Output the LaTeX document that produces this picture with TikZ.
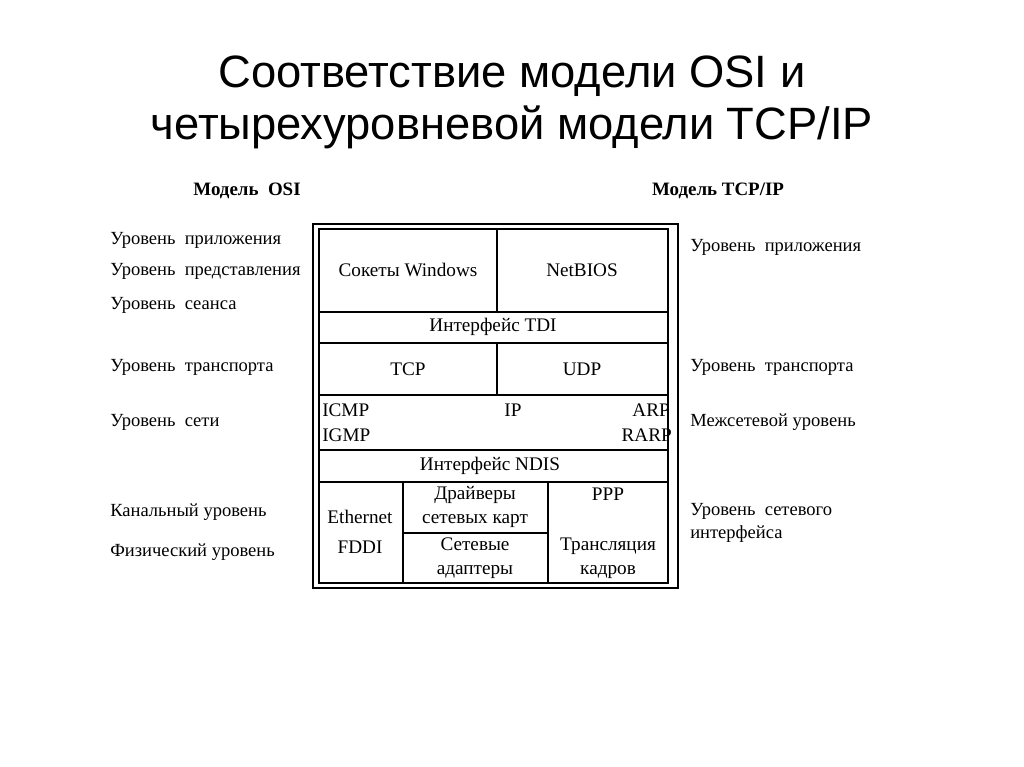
\documentclass[tikz,border=0pt]{standalone}
\usepackage{fontspec}
\setmainfont{Liberation Serif}
\newfontfamily\titlefont{Liberation Sans}
\begin{document}
\begin{tikzpicture}[x=0.75pt,y=-0.75pt,
  lbl/.style={anchor=west,font=\fontsize{13.9}{17}\selectfont,inner sep=0},
  cell/.style={font=\fontsize{14.4}{18}\selectfont,align=center,inner sep=0},
  hdr/.style={font=\bfseries\fontsize{14.2}{16}\selectfont,inner sep=0}]
\useasboundingbox (0,0) rectangle (1024,767);
\node[font=\titlefont\fontsize{34}{39}\selectfont,align=center] (title) at (512,102) {Соответствие модели OSI и\\четырехуровневой модели TCP/IP};
\node[hdr] (h1) at (247,191) {Модель\ \ OSI};
\node[hdr] (h2) at (718,191) {Модель TCP/IP};
\draw[line width=1.8pt] (313,224) rectangle (678,588);
\draw[line width=1pt] (319,229) rectangle (668,583);
\foreach \y in {312,343,395,450,482} \draw[line width=1pt] (319,\y) -- (668,\y);
\draw[line width=1pt] (497,229) -- (497,312) (497,343) -- (497,395);
\draw[line width=1pt] (403,482) -- (403,583) (548,482) -- (548,583) (403,533) -- (548,533);
\node[cell] (c1) at (408,270) {Сокеты Windows};
\node[cell] (c2) at (582,270) {NetBIOS};
\node[cell] (c3) at (493,327) {Интерфейс TDI};
\node[cell] (c4) at (408,369) {TCP};
\node[cell] (c5) at (582,369) {UDP};
\node[cell,anchor=west] (c6) at (322,410) {ICMP};
\node[cell,anchor=west] (c7) at (322,435) {IGMP};
\node[cell] (c8) at (513,410) {IP};
\node[cell,anchor=east] (c9) at (670,410) {ARP};
\node[cell,anchor=east] (c10) at (672,435) {RARP};
\node[cell] (c11) at (490,466) {Интерфейс NDIS};
\node[cell] (c12) at (360,532) {Ethernet\\[4pt]FDDI};
\node[cell] (c13) at (475,507) {Драйверы\\сетевых карт};
\node[cell] (c14) at (475,558) {Сетевые\\адаптеры};
\node[cell] (c15) at (608,494) {PPP};
\node[cell] (c16) at (608,558) {Трансляция\\кадров};
\node[lbl] (l1) at (110,240) {Уровень\ \ приложения};
\node[lbl] (l2) at (110,271) {Уровень\ \ представления};
\node[lbl] (l3) at (110,305) {Уровень\ \ сеанса};
\node[lbl] (l4) at (110,367) {Уровень\ \ транспорта};
\node[lbl] (l5) at (110,422) {Уровень\ \ сети};
\node[lbl] (l6) at (110,512) {Канальный уровень};
\node[lbl] (l7) at (110,552) {Физический уровень};
\node[lbl] (r1) at (690,247) {Уровень\ \ приложения};
\node[lbl] (r2) at (690,367) {Уровень\ \ транспорта};
\node[lbl] (r3) at (690,422) {Межсетевой уровень};
\node[lbl,align=left] (r4) at (690,523) {Уровень\ \ сетевого\\интерфейса};
\end{tikzpicture}
\end{document}
